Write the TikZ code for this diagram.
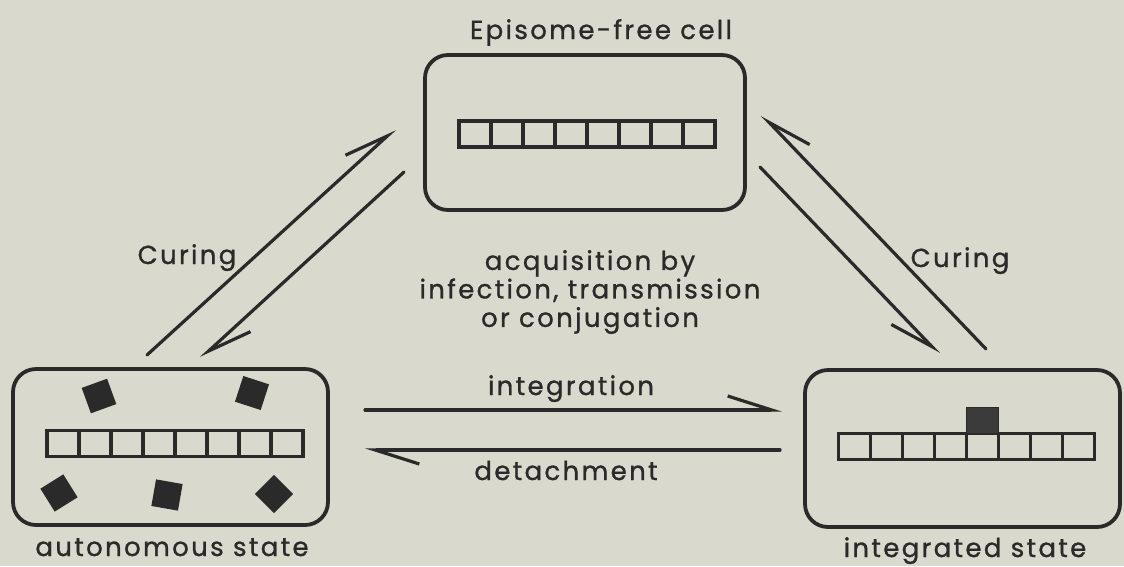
\documentclass[tikz,border=0pt]{standalone}
\usepackage{fontspec}
\setmainfont{Poppins}[LetterSpace=9, FakeBold=1]
\usetikzlibrary{arrows.meta}
\definecolor{paper}{HTML}{DAD9CE}
\definecolor{ink}{HTML}{2A2A2A}
\tikzset{
  cellchain/.pic={
    \foreach \k in {0,...,7}
      \draw[seg] (-128+32*\k,-13) rectangle ++(32,26);
  },
}
\begin{document}
\begin{tikzpicture}[x=1pt,y=-1pt,
  cellbox/.style={draw=ink, line width=3.8pt, rounded corners=23pt, inner sep=0pt},
  lbl/.style={text=ink, font=\fontsize{26}{28.5}\selectfont, inner sep=0pt},
  chip/.style={fill=ink, draw=none, minimum size=27pt, inner sep=0pt},
  seg/.style={draw=ink, line width=3.2pt},
  harp/.style={draw=ink, line width=3.2pt, line cap=round},
  harpL/.style={harp, -{Straight Barb[left, length=44pt, width=28pt, line width=3.2pt]}},
  harpR/.style={harp, -{Straight Barb[right, length=44pt, width=28pt, line width=3.2pt]}},
]
% page
\fill[paper] (0,0) rectangle (1124,566);
\useasboundingbox (0,0) rectangle (1124,566);

% the three cell states
\node[cellbox, minimum width=320pt, minimum height=155pt] (free) at (585,132.5) {};
\node[cellbox, minimum width=315pt, minimum height=156pt] (auto) at (170.5,447) {};
\node[cellbox, minimum width=315pt, minimum height=157pt] (integ) at (962.5,448.5) {};

% chromosomes
\pic at (587,134) {cellchain};
\pic at (175,443.5) {cellchain};
\pic at (966.5,446.5) {cellchain};

% free episomes in the autonomous state
\node[chip, rotate=20]  (e1) at (99,396) {};
\node[chip, rotate=-18] (e2) at (252,393) {};
\node[chip, rotate=32]  (e3) at (59,493) {};
\node[chip, rotate=-10] (e4) at (167,495) {};
\node[chip, rotate=45]  (e5) at (274,494) {};

% episome inserted in the chromosome
\node[fill=ink!92, draw=ink, line width=1.5pt, minimum width=32pt, minimum height=26pt, inner sep=0pt] (ins) at (982.5,420.5) {};

% arrow end points
\coordinate (c1a) at (147,355);  \coordinate (c1b) at (395,129);
\coordinate (c2a) at (404,172);  \coordinate (c2b) at (201,358);
\coordinate (ia)  at (365,410);  \coordinate (ib)  at (782,410);
\coordinate (da)  at (780,450);  \coordinate (db)  at (365,450);
\coordinate (r1a) at (986,349);  \coordinate (r1b) at (762,115);
\coordinate (r2a) at (760,167);  \coordinate (r2b) at (939,354);

\draw[harpL] (c1a) -- (c1b);
\draw[harpL] (c2a) -- (c2b);
\draw[harpL] (ia) -- (ib);
\draw[harpL] (da) -- (db);
\draw[harpR] (r1a) -- (r1b);
\draw[harpR] (r2a) -- (r2b);

% labels
\node[lbl, anchor=base] (tfree) at (601,39) {Episome-free cell};
\node[lbl, anchor=base] (tauto) at (172,556) {autonomous state};
\node[lbl, anchor=base] (tinteg) at (965,557) {integrated state};
\node[lbl, anchor=base] (tcure1) at (187,264) {Curing};
\node[lbl, anchor=base] (tcure2) at (960,267) {Curing};
\node[lbl, anchor=base] (tint) at (571,395) {integration};
\node[lbl, anchor=base] (tdet) at (566,480) {detachment};
\node[lbl, align=center] (tacq) at (590,292) {acquisition by\\infection, transmission\\or conjugation};
\end{tikzpicture}
\end{document}
